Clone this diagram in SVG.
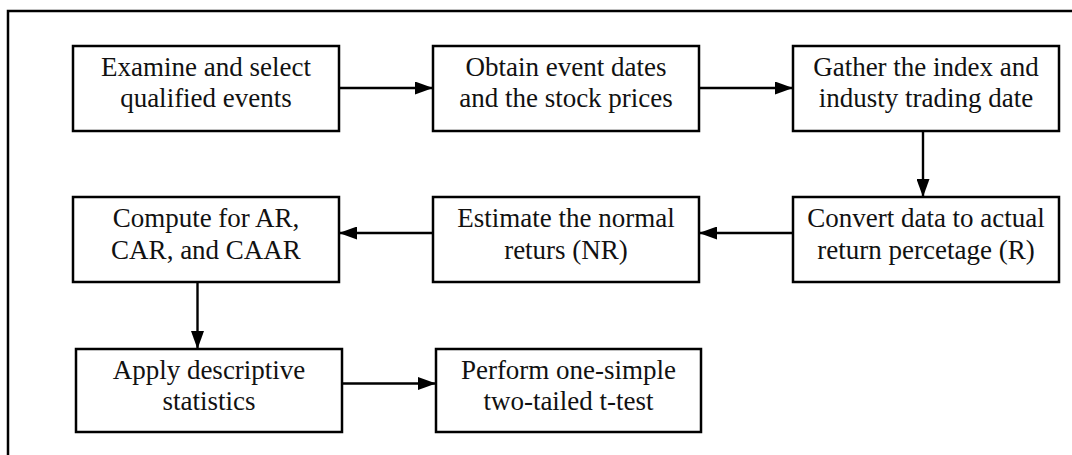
<svg xmlns="http://www.w3.org/2000/svg" width="1072" height="455" viewBox="0 0 1072 455">
  <style>
    .frame { fill: none; stroke: #000; stroke-width: 2.5; }
    .box { fill: #fff; stroke: #000; stroke-width: 2.5; }
    .label { font-family: "Liberation Serif", "Times New Roman", serif; font-size: 27px; fill: #111; text-anchor: middle; }
    .link { fill: none; stroke: #000; stroke-width: 2.4; marker-end: url(#head); }
  </style>
  <defs>
    <marker id="head" markerUnits="userSpaceOnUse" markerWidth="18" markerHeight="13" refX="18" refY="6.5" orient="auto">
      <path d="M0,0 L18,6.5 L0,13 Z" fill="#000"/>
    </marker>
  </defs>

  <rect width="1072" height="455" fill="#fff"/>
  <!-- outer frame (open to the right and bottom) -->
  <rect class="frame" x="8" y="11" width="1090" height="470"/>

  <g id="connectors">
    <line class="link" x1="340" y1="88" x2="433" y2="88"/>
    <line class="link" x1="700" y1="88" x2="793" y2="88"/>
    <line class="link" x1="923" y1="131" x2="923" y2="197"/>
    <line class="link" x1="793" y1="233" x2="699" y2="233"/>
    <line class="link" x1="433" y1="233" x2="339" y2="233"/>
    <line class="link" x1="197.5" y1="282" x2="197.5" y2="349"/>
    <line class="link" x1="341" y1="383.5" x2="436" y2="383.5"/>
  </g>

  <g id="examine">
    <rect class="box" x="73" y="46" width="266" height="85"/>
    <text class="label" x="206" y="76">Examine and select</text>
    <text class="label" x="206" y="107">qualified events</text>
  </g>
  <g id="obtain">
    <rect class="box" x="433" y="46" width="266" height="85"/>
    <text class="label" x="566" y="76">Obtain event dates</text>
    <text class="label" x="566" y="107">and the stock prices</text>
  </g>
  <g id="gather">
    <rect class="box" x="793" y="46" width="266" height="85"/>
    <text class="label" x="926" y="76">Gather the index and</text>
    <text class="label" x="926" y="107">industy trading date</text>
  </g>
  <g id="convert">
    <rect class="box" x="793" y="197" width="266" height="85"/>
    <text class="label" x="926" y="227">Convert data to actual</text>
    <text class="label" x="926" y="259">return percetage (R)</text>
  </g>
  <g id="estimate">
    <rect class="box" x="433" y="197" width="266" height="85"/>
    <text class="label" x="566" y="227">Estimate the normal</text>
    <text class="label" x="566" y="259">returs (NR)</text>
  </g>
  <g id="compute">
    <rect class="box" x="73" y="197" width="266" height="85"/>
    <text class="label" x="206" y="227">Compute for AR,</text>
    <text class="label" x="206" y="259">CAR, and CAAR</text>
  </g>
  <g id="apply">
    <rect class="box" x="76" y="349" width="266" height="83"/>
    <text class="label" x="209" y="379">Apply descriptive</text>
    <text class="label" x="209" y="410">statistics</text>
  </g>
  <g id="perform">
    <rect class="box" x="436" y="349" width="265" height="83"/>
    <text class="label" x="568.5" y="379">Perform one-simple</text>
    <text class="label" x="568.5" y="410">two-tailed t-test</text>
  </g>
</svg>
